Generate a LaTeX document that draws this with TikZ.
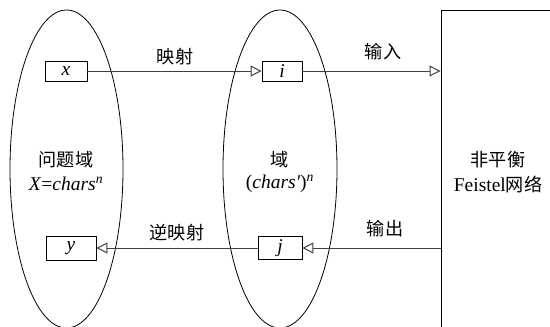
\documentclass[tikz,border=0pt]{standalone}
\usepackage{fontspec}
\setmainfont{Liberation Serif}
\newfontfamily\cjk[Scale=0.93]{Noto Sans CJK SC}
\usetikzlibrary{shapes.geometric,arrows.meta}
\begin{document}
\begin{tikzpicture}[x=1pt,y=-1pt,
  every node/.style={font=\fontsize{19.5}{23}\selectfont},
  setoval/.style={draw,ellipse,line width=0.8pt,inner sep=0pt},
  valbox/.style={draw,line width=0.9pt,inner sep=0pt},
  arr/.style={draw=black!75,line width=1pt,-{Triangle[open,length=11pt,width=11pt]}},
  lbl/.style={inner sep=0pt}]
\useasboundingbox (0,0) rectangle (550,327);
\fill[white] (0,0) rectangle (550,327);
\node[setoval,minimum width=113pt,minimum height=318pt] (D1) at (66.5,169) {};
\node[setoval,minimum width=114pt,minimum height=318pt] (D2) at (280,169) {};
\begin{scope}
\clip (0,0) rectangle (550,327);
\node[draw,line width=0.9pt,minimum width=130pt,minimum height=340pt] (F) at (506,180) {};
\end{scope}
\node[valbox,minimum width=42pt,minimum height=20pt] (bx) at (66,71) {\textit{x}};
\node[valbox,minimum width=50pt,minimum height=24pt] (by) at (71,248) {\textit{y}};
\node[valbox,minimum width=40pt,minimum height=20pt] (bi) at (282,71) {\textit{i}};
\node[valbox,minimum width=44pt,minimum height=23pt] (bj) at (280,248) {\textit{j}};
\draw[arr] (bx) -- (bi);
\draw[arr] (bi) -- (bi -| F.west);
\draw[arr] (F.west |- bj) -- (bj);
\draw[arr] (bj) -- (by);
\node[lbl] (l1) at (175,57) {\cjk 映射};
\node[lbl] (l2) at (383,52) {\cjk 输入};
\node[lbl] (l3) at (177,233) {\cjk 逆映射};
\node[lbl] (l4) at (385,229) {\cjk 输出};
\node[lbl] (t1) at (66,160) {\cjk 问题域};
\node[lbl] (t2) at (66,184) {\textit{X}=\textit{chars}\textsuperscript{\textit{n}}};
\node[lbl] (t3) at (280,160) {\cjk 域};
\node[lbl] (t4) at (280,184) {(\textit{chars}\textit{\textquotesingle})\textsuperscript{\textit{n}}};
\node[lbl] (t5) at (498,160) {\cjk 非平衡};
\node[lbl] (t6) at (498,184) {Feistel{\cjk 网络}};
\end{tikzpicture}
\end{document}
